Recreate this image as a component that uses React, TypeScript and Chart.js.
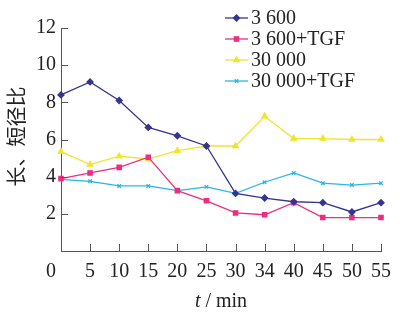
import React, { useEffect, useRef } from 'react';
import { Chart, registerables } from 'chart.js';
import { drawPoint } from 'chart.js/helpers';

Chart.register(...registerables);

const categories = ['0', '5', '10', '15', '20', '25', '30', '34', '40', '45', '50', '55'];
const s3600 = [8.4, 9.1, 8.1, 6.65, 6.2, 5.65, 3.1, 2.85, 2.65, 2.6, 2.1, 2.6];
const s3600TGF = [3.9, 4.2, 4.5, 5.05, 3.25, 2.7, 2.05, 1.95, 2.6, 1.8, 1.8, 1.8];
const s30000 = [5.35, 4.65, 5.1, 4.95, 5.4, 5.65, 5.65, 7.25, 6.05, 6.05, 6.0, 6.0];
const s30000TGF = [3.85, 3.75, 3.5, 3.5, 3.25, 3.45, 3.1, 3.7, 4.2, 3.65, 3.55, 3.65];
const seriesNames = ['3 600', '3 600+TGF', '30 000', '30 000+TGF'];
const yTicks = [0, 2, 4, 6, 8, 10, 12];
const yTitle = '长、短径比';
const xTitleVar = 't';
const xTitleUnit = ' / min';

const colors = ['#35358f', '#ec2d80', '#f2e42e', '#29b5e8'];
const styles = ['rectRot', 'rect', 'triangle', 'crossRot'];
const radii = [3, 3, 3.2, 2.5];
const SERIF = "'Liberation Serif', 'Times New Roman', serif";
const AXIS = '#555';

const decor = {
  id: 'decor',
  afterDraw(chart: any) {
    const { ctx, chartArea: a, scales } = chart;
    const x = scales.x;
    const y = scales.y;
    ctx.save();
    ctx.strokeStyle = AXIS;
    ctx.lineWidth = 1;
    ctx.beginPath();
    categories.forEach((_c, i) => {
      if (i === 0) return;
      const px = Math.round(x.getPixelForValue(i)) + 0.5;
      ctx.moveTo(px, a.bottom);
      ctx.lineTo(px, a.bottom - 7);
    });
    yTicks.forEach((v) => {
      if (v === 0) return;
      const py = Math.round(y.getPixelForValue(v)) + 0.5;
      ctx.moveTo(a.left, py);
      ctx.lineTo(a.left + 7, py);
    });
    ctx.stroke();

    // y title
    ctx.fillStyle = '#222';
    ctx.save();
    ctx.translate(16, (a.top + a.bottom) / 2 - 3);
    ctx.rotate(-Math.PI / 2);
    ctx.font = "20px 'Noto Sans CJK SC'";
    ctx.textAlign = 'center';
    ctx.textBaseline = 'middle';
    ctx.fillText(yTitle, 0, 0);
    ctx.restore();

    // x title
    ctx.font = `italic 20px ${SERIF}`;
    const w1 = ctx.measureText(xTitleVar).width;
    ctx.font = `20px ${SERIF}`;
    const w2 = ctx.measureText(xTitleUnit).width;
    const cx = (a.left + a.right) / 2;
    const sx = cx - (w1 + w2) / 2;
    ctx.textAlign = 'left';
    ctx.textBaseline = 'middle';
    ctx.font = `italic 20px ${SERIF}`;
    ctx.fillText(xTitleVar, sx, 302);
    ctx.font = `20px ${SERIF}`;
    ctx.fillText(xTitleUnit, sx + w1, 302);

    // legend
    const rows = [18, 39, 60, 81];
    seriesNames.forEach((name, i) => {
      const ly = rows[i];
      ctx.strokeStyle = colors[i];
      ctx.fillStyle = colors[i];
      ctx.lineWidth = 1.3;
      ctx.beginPath();
      ctx.moveTo(225, ly);
      ctx.lineTo(248, ly);
      ctx.stroke();
      drawPoint(ctx, { pointStyle: styles[i], radius: radii[i], rotation: 0, borderWidth: 1.3 } as any, 236.5, ly);
      ctx.fillStyle = '#222';
      ctx.font = `20px ${SERIF}`;
      ctx.textBaseline = 'middle';
      ctx.fillText(name, 251, ly + 1);
    });
    ctx.restore();
  },
};

export default function App() {
  const ref = useRef<HTMLCanvasElement | null>(null);
  useEffect(() => {
    if (!ref.current) return;
    const data = [s3600, s3600TGF, s30000, s30000TGF];
    const chart = new Chart(ref.current, {
      type: 'line',
      data: {
        labels: categories,
        datasets: data.map((d, i) => ({
          label: seriesNames[i],
          data: d,
          borderColor: colors[i],
          backgroundColor: colors[i],
          borderWidth: 1.3,
          pointStyle: styles[i] as any,
          pointRadius: radii[i],
          pointBorderWidth: 1.3,
          tension: 0,
        })),
      },
      options: {
        animation: false,
        responsive: true,
        maintainAspectRatio: false,
        layout: { padding: { top: 28, right: 11, left: 0, bottom: 0 } },
        plugins: { legend: { display: false }, tooltip: { enabled: false } },
        scales: {
          x: {
            type: 'category',
            offset: false,
            grid: { display: false, drawTicks: false },
            border: { display: true, color: AXIS, width: 1 },
            ticks: {
              padding: 9,
              color: '#222',
              font: { family: SERIF, size: 20 },
              maxRotation: 0,
              autoSkip: false,
              callback: (_v: any, i: number) => (i === 0 ? categories[i] + '\u2007\u2007' : categories[i]),
            },
            afterFit: (s: any) => {
              s.height = 71;
            },
          },
          y: {
            min: 0,
            max: 12,
            grid: { display: false, drawTicks: false },
            border: { display: true, color: AXIS, width: 1 },
            ticks: {
              stepSize: 2,
              padding: 5,
              color: '#222',
              font: { family: SERIF, size: 20 },
              callback: (v: any) => (v === 0 ? '' : String(v)),
            },
            afterFit: (s: any) => {
              s.width = 61;
            },
          },
        },
      },
      plugins: [decor],
    });
    return () => chart.destroy();
  }, []);
  return (
    <div style={{ position: 'absolute', left: 0, top: 0, width: 400, height: 322, background: '#fff' }}>
      <canvas ref={ref} />
    </div>
  );
}
